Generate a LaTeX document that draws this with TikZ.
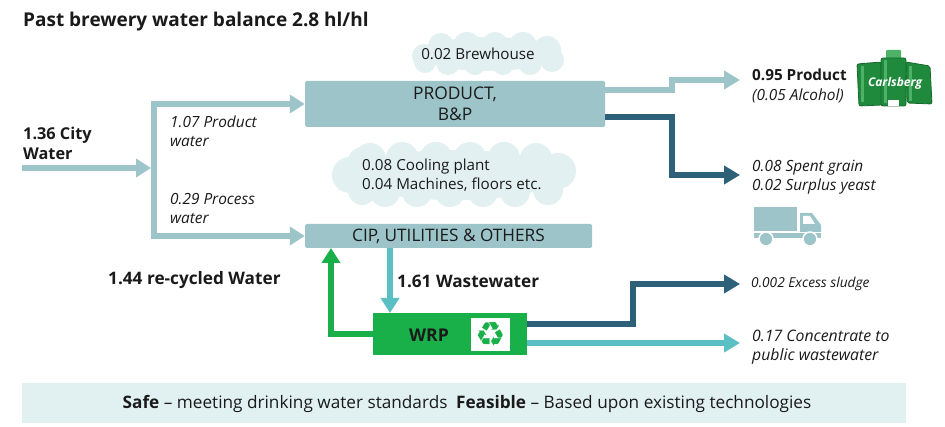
\documentclass[tikz,border=0pt]{standalone}
\usepackage{fontspec}
\setmainfont{Open Sans}
\newfontfamily\dejavu{DejaVu Sans}
\usetikzlibrary{arrows.meta,calc}
\definecolor{cLight}{HTML}{9DC5C9}
\definecolor{cDark}{HTML}{2D6179}
\definecolor{cTeal}{HTML}{5BC0C4}
\definecolor{cGreen}{HTML}{19B04A}
\definecolor{cCloud}{HTML}{E3F0F1}
\definecolor{cBanner}{HTML}{E1F1F1}
\definecolor{cTxt}{HTML}{1A1A1A}
\definecolor{cCan}{HTML}{1F8A3C}
\definecolor{cCanDk}{HTML}{16692D}
\definecolor{cCanHi}{HTML}{4DB267}
\begin{document}
\begin{tikzpicture}[x=1pt,y=-1pt,
  every node/.style={text=cTxt},
  flow/.style={line width=6.5pt, line join=miter, -{Triangle[width=18pt,length=15pt]}},
  flowthin/.style={line width=5.5pt, line join=miter, -{Triangle[width=18pt,length=16pt]}},
  procbox/.style={fill=cLight, rounded corners=1.5pt, inner sep=0pt, align=center},
  lab/.style={anchor=west, align=left, inner sep=0pt, font=\fontsize{15.4}{19}\selectfont\itshape},
  blab/.style={anchor=west, align=left, inner sep=0pt, font=\fontsize{17.2}{20}\selectfont\bfseries},
  cloudtext/.style={inner sep=0pt, align=left, font=\fontsize{15.2}{19}\selectfont}]
\useasboundingbox (0,0) rectangle (945,427);
\fill[white] (0,0) rectangle (945,427);

% title
\node[anchor=base west, inner sep=0pt, font=\fontsize{19}{22}\selectfont\bfseries] (title) at (23,27) {Past brewery water balance 2.8 hl/hl};

% clouds (drawn shapes)
\fill[cCloud] (488,54) ellipse [x radius=68, y radius=17];
\foreach \cx/\cy/\r in {424/56/12, 441/46/13, 467/46/14, 495/45/13, 523/46/14, 547/50/14, 552/60/12, 530/63/12, 503/64/11, 475/64/11, 448/63/12, 425/62/11}
  \fill[cCloud] (\cx,\cy) circle (\r);
\fill[cCloud] (454,175) ellipse [x radius=108, y radius=25];
\foreach \cx/\cy/\r in {370/159/16, 402/158/16, 436/158/16, 470/158/16, 504/158/16, 536/159/16, 558/171/18, 548/190/15, 515/192/15, 483/192/15, 450/192/15, 417/192/15, 385/192/15, 350/175/18, 362/161/14, 362/191/14}
  \fill[cCloud] (\cx,\cy) circle (\r);
\node[cloudtext] (cloudA) at (478,54) {0.02 Brewhouse};
\node[cloudtext, anchor=west] (cloudB) at (362,175.5) {0.08 Cooling plant\\0.04 Machines, floors etc.};

% boxes
\node[procbox, minimum width=300pt, minimum height=46pt, font=\fontsize{17.4}{21}\selectfont] (prod) at (455,104) {PRODUCT,\\B\&P};
\node[procbox, minimum width=287pt, minimum height=24pt, font=\fontsize{17.2}{18}\selectfont] (cip) at (448.5,236) {CIP, UTILITIES \& OTHERS};
\node[fill=cGreen, minimum width=154pt, minimum height=42pt, inner sep=0pt] (wrp) at (450,334) {};
\node[inner sep=0pt, font=\fontsize{17.6}{20}\selectfont\bfseries] (wrptext) at (429,335) {WRP};
\node[fill=white, minimum width=39pt, minimum height=33pt, inner sep=0pt] (recyc) at (490.5,334.5) {};
\node[inner sep=0pt, font=\dejavu\fontsize{34}{34}\selectfont, text=cGreen] (recsym) at (490.5,335) {♻};

% labels
\node[blab, font=\fontsize{16.3}{20}\selectfont\bfseries] (city) at (23,143) {1.36 City\\Water};
\node[lab] (pw) at (170,131.5) {1.07 Product\\water};
\node[lab] (prw) at (170,208.5) {0.29 Process\\water};
\node[blab] (recy) at (108,280) {1.44 re-cycled Water};
\node[blab] (ww) at (397,281) {1.61 Wastewater};
\node[anchor=west, inner sep=0pt, font=\fontsize{15.3}{19}\selectfont\bfseries] (outp) at (752,75) {0.95 Product};
\node[lab] (alc) at (752,96) {(0.05 Alcohol)};
\node[lab] (grain) at (752,177.5) {0.08 Spent grain\\0.02 Surplus yeast};
\node[anchor=west, inner sep=0pt, font=\fontsize{13.7}{16}\selectfont\itshape] (sludge) at (751,284) {0.002 Excess sludge};
\node[anchor=west, align=left, inner sep=0pt, font=\fontsize{15.8}{19}\selectfont\itshape] (conc) at (752,347.5) {0.17 Concentrate to\\public wastewater};

% banner
\fill[cBanner] (22,383) rectangle (906,423);
\node[inner sep=0pt, font=\fontsize{17.2}{20}\selectfont] (banner) at (467,404) {\textbf{Safe} -- meeting drinking water standards\enspace\textbf{Feasible} -- Based upon existing technologies};

% coordinates
\coordinate (cityin) at (22,168);
\coordinate (jc) at (151,168);
\coordinate (jt) at (154,104);
\coordinate (jb) at (154,236);
\coordinate (gtop) at (331,248);
\coordinate (w1) at (390,248);
\coordinate (w2) at (390,313);
\coordinate (pA) at (672,80);
\coordinate (tipA) at (740,80);
\coordinate (pB) at (672,175);
\coordinate (tipB) at (740,175);
\coordinate (sA) at (633,284);
\coordinate (tipS) at (740,284);
\coordinate (tipC) at (740,343);

% connectors
\draw[flow, cLight] (cityin) -- (jc);
\draw[flow, cLight] (jb) -- (jt) -- (prod.west);
\draw[flow, cLight] (jt) -- (jb) -- (cip.west);
\draw[flow, cGreen] (wrp.west) -| (gtop);
\draw[flow, cTeal] (w1) -- (w2);
\draw[flowthin, cLight] ($(prod.east)+(0,-14)$) -| (pA) -- (tipA);
\draw[flowthin, cDark] ($(prod.east)+(0,13)$) -| (pB) -- (tipB);
\draw[flowthin, cDark] ($(wrp.east)+(0,-10)$) -| (sA) -- (tipS);
\draw[flowthin, cTeal] ($(wrp.east)+(0,9)$) -- (tipC);

% cans
\filldraw[fill=cCan, draw=cCanDk, line width=0.8pt, rounded corners=2pt] (857,64) -- (881,62) -- (882,105) -- (859,106) -- cycle;
\filldraw[fill=cCan, draw=cCanDk, line width=0.8pt, rounded corners=2pt] (906,62) -- (930,66) -- (932,104) -- (907,103) -- cycle;
\fill[cCanHi, rounded corners=1pt] (886,50) rectangle (901,60);
\filldraw[fill=cCan, draw=cCanDk, line width=0.8pt, rounded corners=2pt] (881,58) rectangle (906,106);
\fill[cCanHi] (861,66) rectangle (864,102);
\fill[cCanHi] (884,60) rectangle (887,103);
\fill[cCanHi] (909,66) rectangle (912,101);
\fill[white] (888,100) rectangle (899,106);
\node[inner sep=0pt, font=\fontsize{12}{12}\selectfont\itshape\bfseries, text=white] (canlogo) at (895,83) {Carlsberg};

% truck
\fill[cLight] (754,207) rectangle (797,231);
\fill[cLight] (754,233) rectangle (821,238);
\fill[cLight] (800,213) -- (812,213) -- (821,225) -- (821,232) -- (800,232) -- cycle;
\fill[white] (803,216) -- (810,216) -- (815,224) -- (803,224) -- cycle;
\filldraw[fill=cLight, draw=white, line width=1.5pt] (766,239) circle (7);
\filldraw[fill=cLight, draw=white, line width=1.5pt] (810,239) circle (7);
\end{tikzpicture}
\end{document}
